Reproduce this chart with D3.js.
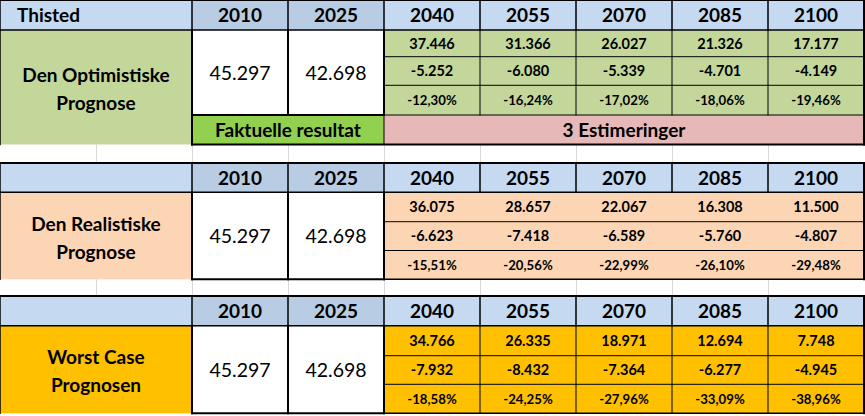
<!DOCTYPE html>
<html>
	<head>
		<meta charset="utf-8">
		<script type="text/javascript" src="https://cdn.jsdelivr.net/npm/d3@7"></script>
		<style>
		body {
			margin: 0;
			background: white;
		}
		.sheet text {
			font-family: Lato, "Noto Sans", sans-serif;
			fill: black;
		}
		</style>
	</head>
	<body>
		<script type="text/javascript">
			// years and values
			var years = ["2010", "2025", "2040", "2055", "2070", "2085", "2100"];
			var corner = "Thisted";
			var scenarios = [["Den Optimistiske", "Prognose"], ["Den Realistiske", "Prognose"], ["Worst Case", "Prognosen"]];
			var baseValues = [45297, 42698];

			var optPop = [37446, 31366, 26027, 21326, 17177];
			var optChange = [-5252, -6080, -5339, -4701, -4149];
			var optPct = [-12.30, -16.24, -17.02, -18.06, -19.46];

			var realPop = [36075, 28657, 22067, 16308, 11500];
			var realChange = [-6623, -7418, -6589, -5760, -4807];
			var realPct = [-15.51, -20.56, -22.99, -26.10, -29.48];

			var worstPop = [34766, 26335, 18971, 12694, 7748];
			var worstChange = [-7932, -8432, -7364, -6277, -4945];
			var worstPct = [-18.58, -24.25, -27.96, -33.09, -38.96];

			var footLabels = ["Faktuelle resultat", "3 Estimeringer"];

			// layout
			var width = 865, height = 416;
			var blockColors = ["#C4D79B", "#FCD5B4", "#FFC000"];
			var blockRows = [
				[0, 30, 56.7, 85.3, 115],
				[163, 192.3, 221.7, 250.5, 279.3],
				[296, 325.7, 355.7, 384.3, 413.3]
			];
			var footBottom = 144.5;
			var innerGrid = [true, false, true];

			var blocks = scenarios.map(function(s, i) {
				return {
					name: s,
					color: blockColors[i],
					rows: blockRows[i],
					grid: innerGrid[i],
					series: [[optPop, realPop, worstPop][i], [optChange, realChange, worstChange][i], [optPct, realPct, worstPct][i]]
				};
			});

			var dk = d3.formatLocale({decimal: ",", thousands: ".", grouping: [3], currency: ["", " kr"], minus: "-"});
			var fmtInt = dk.format(",d");
			var fmtPct = dk.format(",.2%");

			var cols = ["A", "B"].concat(years);
			var x = d3.scaleBand().domain(cols).range([0, 864]);
			var bw = x.bandwidth();

			var svg = d3.select("body").append("svg")
				.attr("class", "sheet")
				.attr("width", width)
				.attr("height", height);

			var gridG = svg.append("g");
			var fillG = svg.append("g");
			var lineG = svg.append("g");
			var textG = svg.append("g");

			// faint sheet gridlines in the empty rows
			var gaps = [[footBottom, blockRows[1][0]], [blockRows[1][4], blockRows[2][0]]];
			gaps.forEach(function(g) {
				gridG.selectAll(null)
					.data(cols.slice(1))
				  .enter().append("line")
					.attr("x1", function(c) { return x(c) + 0.5; })
					.attr("x2", function(c) { return x(c) + 0.5; })
					.attr("y1", g[0])
					.attr("y2", g[1])
					.attr("stroke", "#D9D9D9")
					.attr("stroke-width", 1);
			});

			function cell(x0, y0, w, h, fill) {
				fillG.append("rect")
					.attr("x", x0).attr("y", y0)
					.attr("width", w).attr("height", h)
					.attr("fill", fill);
			}

			function line(x1, y1, x2, y2, sw) {
				lineG.append("line")
					.attr("x1", x1).attr("y1", y1)
					.attr("x2", x2).attr("y2", y2)
					.attr("stroke", "black")
					.attr("stroke-width", sw)
					.attr("stroke-linecap", "square");
			}

			function label(tx, ty, str, size, weight, anchor) {
				textG.append("text")
					.attr("x", tx)
					.attr("y", ty)
					.attr("dy", "0.36em")
					.attr("text-anchor", anchor || "middle")
					.style("font-size", size + "px")
					.style("font-weight", weight)
					.text(str);
			}

			var right = x.range()[1];
			var labelW = x(years[0]);
			var estX = x(years[2]);

			blocks.forEach(function(b, bi) {
				var r = b.rows;
				var bottom = bi === 0 ? footBottom : r[4];

				// header row
				cell(0, r[0], labelW, r[1] - r[0], "#C5D9F1");
				years.forEach(function(yr, i) {
					cell(x(yr), r[0], bw, r[1] - r[0], i < 2 ? "#B8CCE4" : "#C5D9F1");
					label(x(yr) + bw / 2, (r[0] + r[1]) / 2 + 0.5, yr, 19, "bold");
				});
				if (bi === 0) label(17, (r[0] + r[1]) / 2 + 0.5, corner, 19, "bold", "start");

				// scenario name cell
				cell(0, r[1], labelW, bottom - r[1], b.color);
				var mid = (r[1] + bottom) / 2 + 2;
				label(labelW / 2, mid - 14, b.name[0], 19, "bold");
				label(labelW / 2, mid + 14, b.name[1], 19, "bold");

				// 2010 and 2025 boxes
				baseValues.forEach(function(v, i) {
					var c = years[i];
					cell(x(c), r[1], bw, r[4] - r[1], "white");
					label(x(c) + bw / 2, (r[1] + r[4]) / 2, fmtInt(v), 19.5, "normal");
				});

				// estimate cells
				var lastYears = years.slice(2);
				b.series.forEach(function(s, si) {
					var y0 = r[si + 1], y1 = r[si + 2];
					cell(estX, y0, right - estX, y1 - y0, b.color);
					s.forEach(function(v, i) {
						var c = lastYears[i];
						var str = si === 2 ? fmtPct(v / 100) : fmtInt(v);
						label(x(c) + bw / 2, (y0 + y1) / 2, str, si === 2 ? 13.2 : 14.5, "bold");
					});
					if (si > 0) line(estX, y0, right, y0, 1);
				});

				// lines
				line(0, r[0], right, r[0], 2);
				line(0, r[1], right, r[1], 1.5);
				line(0, r[0], 0, bottom, 1.5);
				line(right, r[0], right, bottom, 2);
				years.forEach(function(yr) {
					line(x(yr), r[0], x(yr), r[1], 1.5);
				});
				line(x(years[0]), r[1], x(years[0]), r[4], 2);
				line(x(years[1]), r[1], x(years[1]), r[4], 2);
				line(estX, r[1], estX, r[4], 2);
				line(x(years[0]), r[4], estX, r[4], 2);
				if (b.grid) {
					lastYears.slice(1).forEach(function(c) {
						line(x(c), r[1], x(c), r[4], 1);
					});
				}
				line(estX, r[4], right, r[4], bi > 0 ? 1.5 : 1);
			});

			// footer row under the first block
			var r0 = blockRows[0];
			cell(x(years[0]), r0[4], 2 * bw, footBottom - r0[4], "#92D050");
			cell(estX, r0[4], right - estX, footBottom - r0[4], "#E6B8B7");
			label(x(years[0]) + bw, (r0[4] + footBottom) / 2, footLabels[0], 19, "bold");
			label((estX + right) / 2, (r0[4] + footBottom) / 2, footLabels[1], 19, "bold");
			line(x(years[0]), r0[4], x(years[0]), footBottom, 2);
			line(estX, r0[4], estX, footBottom, 1);
			line(x(years[0]), footBottom, right, footBottom, 2);
		</script>
	</body>
</html>
